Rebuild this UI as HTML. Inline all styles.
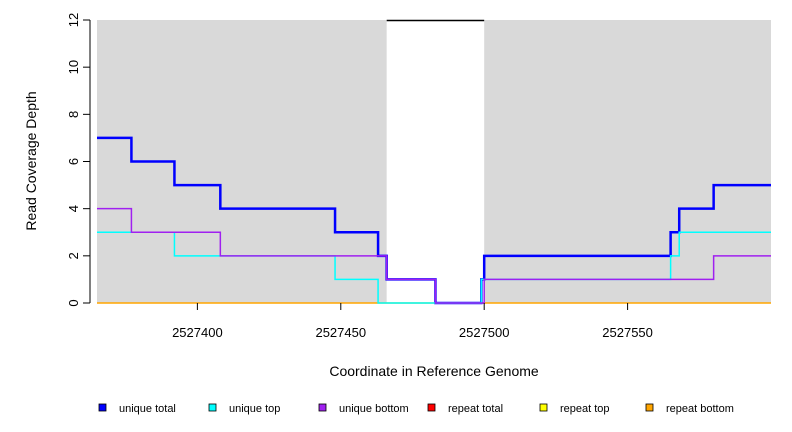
<!DOCTYPE html>
<html><head><meta charset="utf-8"><style>
body{margin:0;background:#fff;}
svg{display:block;font-family:"Liberation Sans",sans-serif;}
</style></head><body>
<svg id="chart" width="792" height="432">
</svg>
<script>
const xTicks=[2527400,2527450,2527500,2527550];
const yTicks=[0,2,4,6,8,10,12];
const gapRegion=[2527466,2527500];
const uniqueTotalX=[2527365,2527377,2527392,2527408,2527448,2527463,2527466,2527483,2527499,2527500,2527565,2527568,2527580,2527600];
const uniqueTotalY=[7,6,5,4,3,2,1,0,1,2,3,4,5,5];
const uniqueTopX=[2527365,2527392,2527448,2527463,2527499,2527565,2527568,2527600];
const uniqueTopY=[3,2,1,0,1,2,3,3];
const uniqueBottomX=[2527365,2527377,2527408,2527466,2527483,2527500,2527580,2527600];
const uniqueBottomY=[4,3,2,1,0,1,2,2];
const repeatX=[2527365,2527600];
const repeatY=[0,0];
const legendLabels=["unique total","unique top","unique bottom","repeat total","repeat top","repeat bottom"];
const legendColors=["#0000ff","#00ffff","#a020f0","#ff0000","#ffff00","#ffa500"];

const L=97,R=771,T=20,B=303,x0=2527365,x1=2527600,ymax=12;
const sx=v=>L+(v-x0)/(x1-x0)*(R-L);
const sy=v=>B-v/ymax*(B-T);
const svg=document.getElementById('chart');
const NS='http://www.w3.org/2000/svg';
function mk(tag,attrs,name,text){const e=document.createElementNS(NS,tag);for(const k in attrs)e.setAttribute(k,attrs[k]);


if(text!==undefined)e.textContent=text;svg.appendChild(e);return e;}
mk('rect',{x:L,y:T,width:R-L,height:B-T,fill:'#d9d9d9'},'plot-background');
mk('rect',{x:sx(gapRegion[0]),y:T,width:sx(gapRegion[1])-sx(gapRegion[0]),height:B-T,fill:'#fff'},'gap-region');
mk('line',{x1:sx(gapRegion[0]),x2:sx(gapRegion[1]),y1:T+0.5,y2:T+0.5,stroke:'#000','stroke-width':1.5},'gap-top-line');
function step(xs,ys,color,w,name){let d='M'+sx(xs[0])+','+sy(ys[0]);
for(let i=1;i<xs.length;i++){d+=' H'+sx(xs[i])+' V'+sy(ys[i]);}
mk('path',{d:d,fill:'none',stroke:color,'stroke-width':w},name);}
step(repeatX,repeatY,'#ffa500',1.5,'repeat-series-line');
step(uniqueTotalX,uniqueTotalY,'#0000ff',2.5,'unique-total-line');
step(uniqueTopX,uniqueTopY,'#00ffff',1.5,'unique-top-line');
step(uniqueBottomX,uniqueBottomY,'#a020f0',1.5,'unique-bottom-line');
mk('line',{x1:L-7,x2:L-7,y1:sy(0),y2:sy(12),stroke:'#000'},'y-axis-line');
yTicks.forEach(v=>{mk('line',{x1:L-14,x2:L-7,y1:sy(v),y2:sy(v),stroke:'#000'},'y-tick');
const t=mk('text',{x:0,y:0,'font-size':13,'text-anchor':'middle',transform:`translate(${L-19},${sy(v)}) rotate(-90)`},'y-tick-label',String(v));});
xTicks.forEach(v=>{mk('line',{x1:sx(v),x2:sx(v),y1:B,y2:B+7,stroke:'#000'},'x-tick');
mk('text',{x:sx(v),y:B+34,'font-size':13,'text-anchor':'middle'},'x-tick-label',String(v));});
mk('text',{x:434,y:376,'font-size':14,'text-anchor':'middle'},'x-axis-title','Coordinate in Reference Genome');
mk('text',{x:0,y:0,'font-size':14,'text-anchor':'middle',transform:'translate(36,161) rotate(-90)'},'y-axis-title','Read Coverage Depth');
const lx=[99,209,319,428,540,646];
legendLabels.forEach((lab,i)=>{mk('rect',{x:lx[i],y:404,width:7,height:7,fill:legendColors[i],stroke:'#000','stroke-width':0.8},'legend-swatch');
mk('text',{x:lx[i]+20,y:412,'font-size':11},'legend-entry',lab);});
</script>
</body></html>
